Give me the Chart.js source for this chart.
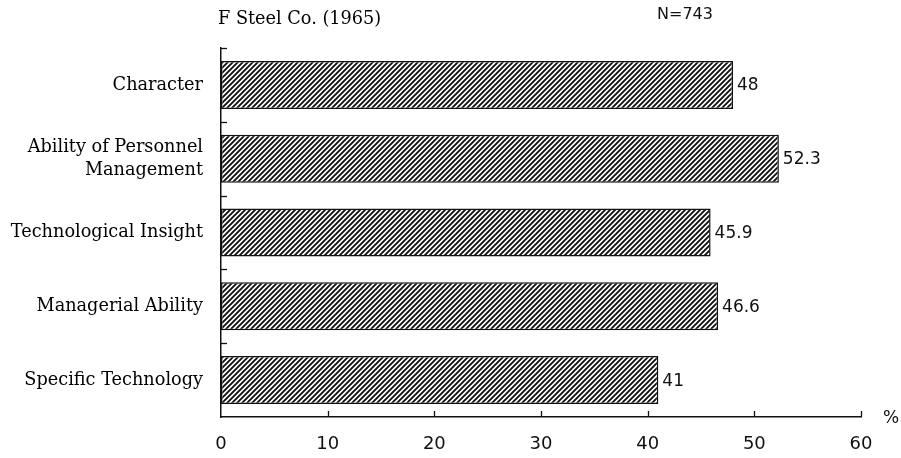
<!DOCTYPE html>
<html>
<head>
<meta charset="utf-8">
<script src="https://cdn.jsdelivr.net/npm/chart.js@4"></script>
<style>
  html, body { margin: 0; padding: 0; background: #fff; }
  #wrap { width: 901px; height: 458px; }
</style>
</head>
<body>
<div id="wrap"><canvas id="chart1" width="901" height="458"></canvas></div>
<script>
const categories = ['Character', ['Ability of Personnel', 'Management'], 'Technological Insight', 'Managerial Ability', 'Specific Technology'];
const values = [48, 52.3, 45.9, 46.6, 41];
const valueLabels = ['48', '52.3', '45.9', '46.6', '41'];
const xTicks = [0, 10, 20, 30, 40, 50, 60];
const titleText = 'F Steel Co. (1965)';
const noteText = 'N=743';
const unitText = '%';

// diagonal hatch fill
function makeHatch() {
    const c = document.createElement('canvas');
    c.width = 5;
    c.height = 5;
    const g = c.getContext('2d');
    g.fillStyle = '#fff';
    g.fillRect(0, 0, 5, 5);
    g.strokeStyle = '#111';
    g.lineWidth = 1.9;
    g.beginPath();
    g.moveTo(-1, 6); g.lineTo(6, -1);
    g.moveTo(-1, 1); g.lineTo(1, -1);
    g.moveTo(4, 6); g.lineTo(6, 4);
    g.stroke();
    return c;
}
const chart1 = document.getElementById('chart1');
const ctx = chart1.getContext('2d');
const hatch = ctx.createPattern(makeHatch(), 'repeat');

const extras = {
    id: 'extras',
    afterDraw(chart) {
        const c = chart.ctx;
        const area = chart.chartArea;
        const xs = chart.scales.x;
        const ys = chart.scales.y;
        c.save();
        c.strokeStyle = '#111';
        c.lineWidth = 1.3;
        // inward ticks on x axis
        xTicks.forEach(function (t) {
            if (t === 0) return;
            const px = Math.round(xs.getPixelForValue(t)) + 0.5;
            c.beginPath();
            c.moveTo(px, area.bottom);
            c.lineTo(px, area.bottom - 6);
            c.stroke();
        });
        // inward ticks on y axis at category boundaries
        for (let i = 0; i < categories.length; i++) {
            let py;
            if (i === 0) py = area.top;
            else py = (ys.getPixelForTick(i - 1) + ys.getPixelForTick(i)) / 2;
            py = Math.round(py) + 0.5;
            c.beginPath();
            c.moveTo(area.left, py);
            c.lineTo(area.left + 6, py);
            c.stroke();
        }
        // value labels
        c.fillStyle = '#111';
        c.font = '17px "DejaVu Sans"';
        c.textAlign = 'left';
        c.textBaseline = 'middle';
        chart.getDatasetMeta(0).data.forEach(function (bar, i) {
            c.fillText(valueLabels[i], bar.x + 4, bar.y + 1);
        });
        // title, note and unit
        c.fillStyle = '#000';
        c.font = '17.7px "DejaVu Serif"';
        c.fillText(titleText, 218, 19);
        c.fillStyle = '#111';
        c.font = '16px "DejaVu Sans"';
        c.fillText(noteText, 657, 15);
        c.font = '17px "DejaVu Sans"';
        c.fillText(unitText, 883, 419);
        c.restore();
    }
};

const myChart = new Chart(chart1, {
    type: 'bar',
    data: {
        labels: categories,
        datasets: [{
            data: values,
            backgroundColor: hatch,
            borderColor: '#111',
            borderWidth: 1.5,
            borderSkipped: false,
            categoryPercentage: 1,
            barPercentage: 0.65
        }]
    },
    options: {
        indexAxis: 'y',
        responsive: false,
        animation: false,
        layout: {
            padding: { top: 48, right: 40, left: 0, bottom: 0 }
        },
        plugins: {
            legend: { display: false },
            tooltip: { enabled: false }
        },
        scales: {
            x: {
                min: 0,
                max: 60,
                afterFit: function (s) { s.height = 41; },
                afterBuildTicks: function (s) {
                    s.ticks = xTicks.map(function (v) { return { value: v }; });
                },
                grid: { display: false, drawTicks: false },
                border: { display: true, color: '#111', width: 1.5 },
                ticks: {
                    color: '#111',
                    padding: 17,
                    maxRotation: 0,
                    font: { family: 'DejaVu Sans', size: 18 }
                }
            },
            y: {
                afterFit: function (s) { s.width = 221; },
                grid: { display: false, drawTicks: false },
                border: { display: true, color: '#111', width: 1.5 },
                ticks: {
                    color: '#000',
                    padding: 18,
                    font: { family: 'DejaVu Serif', size: 17.7, lineHeight: 1.3 }
                }
            }
        }
    },
    plugins: [extras]
});
</script>
</body>
</html>
